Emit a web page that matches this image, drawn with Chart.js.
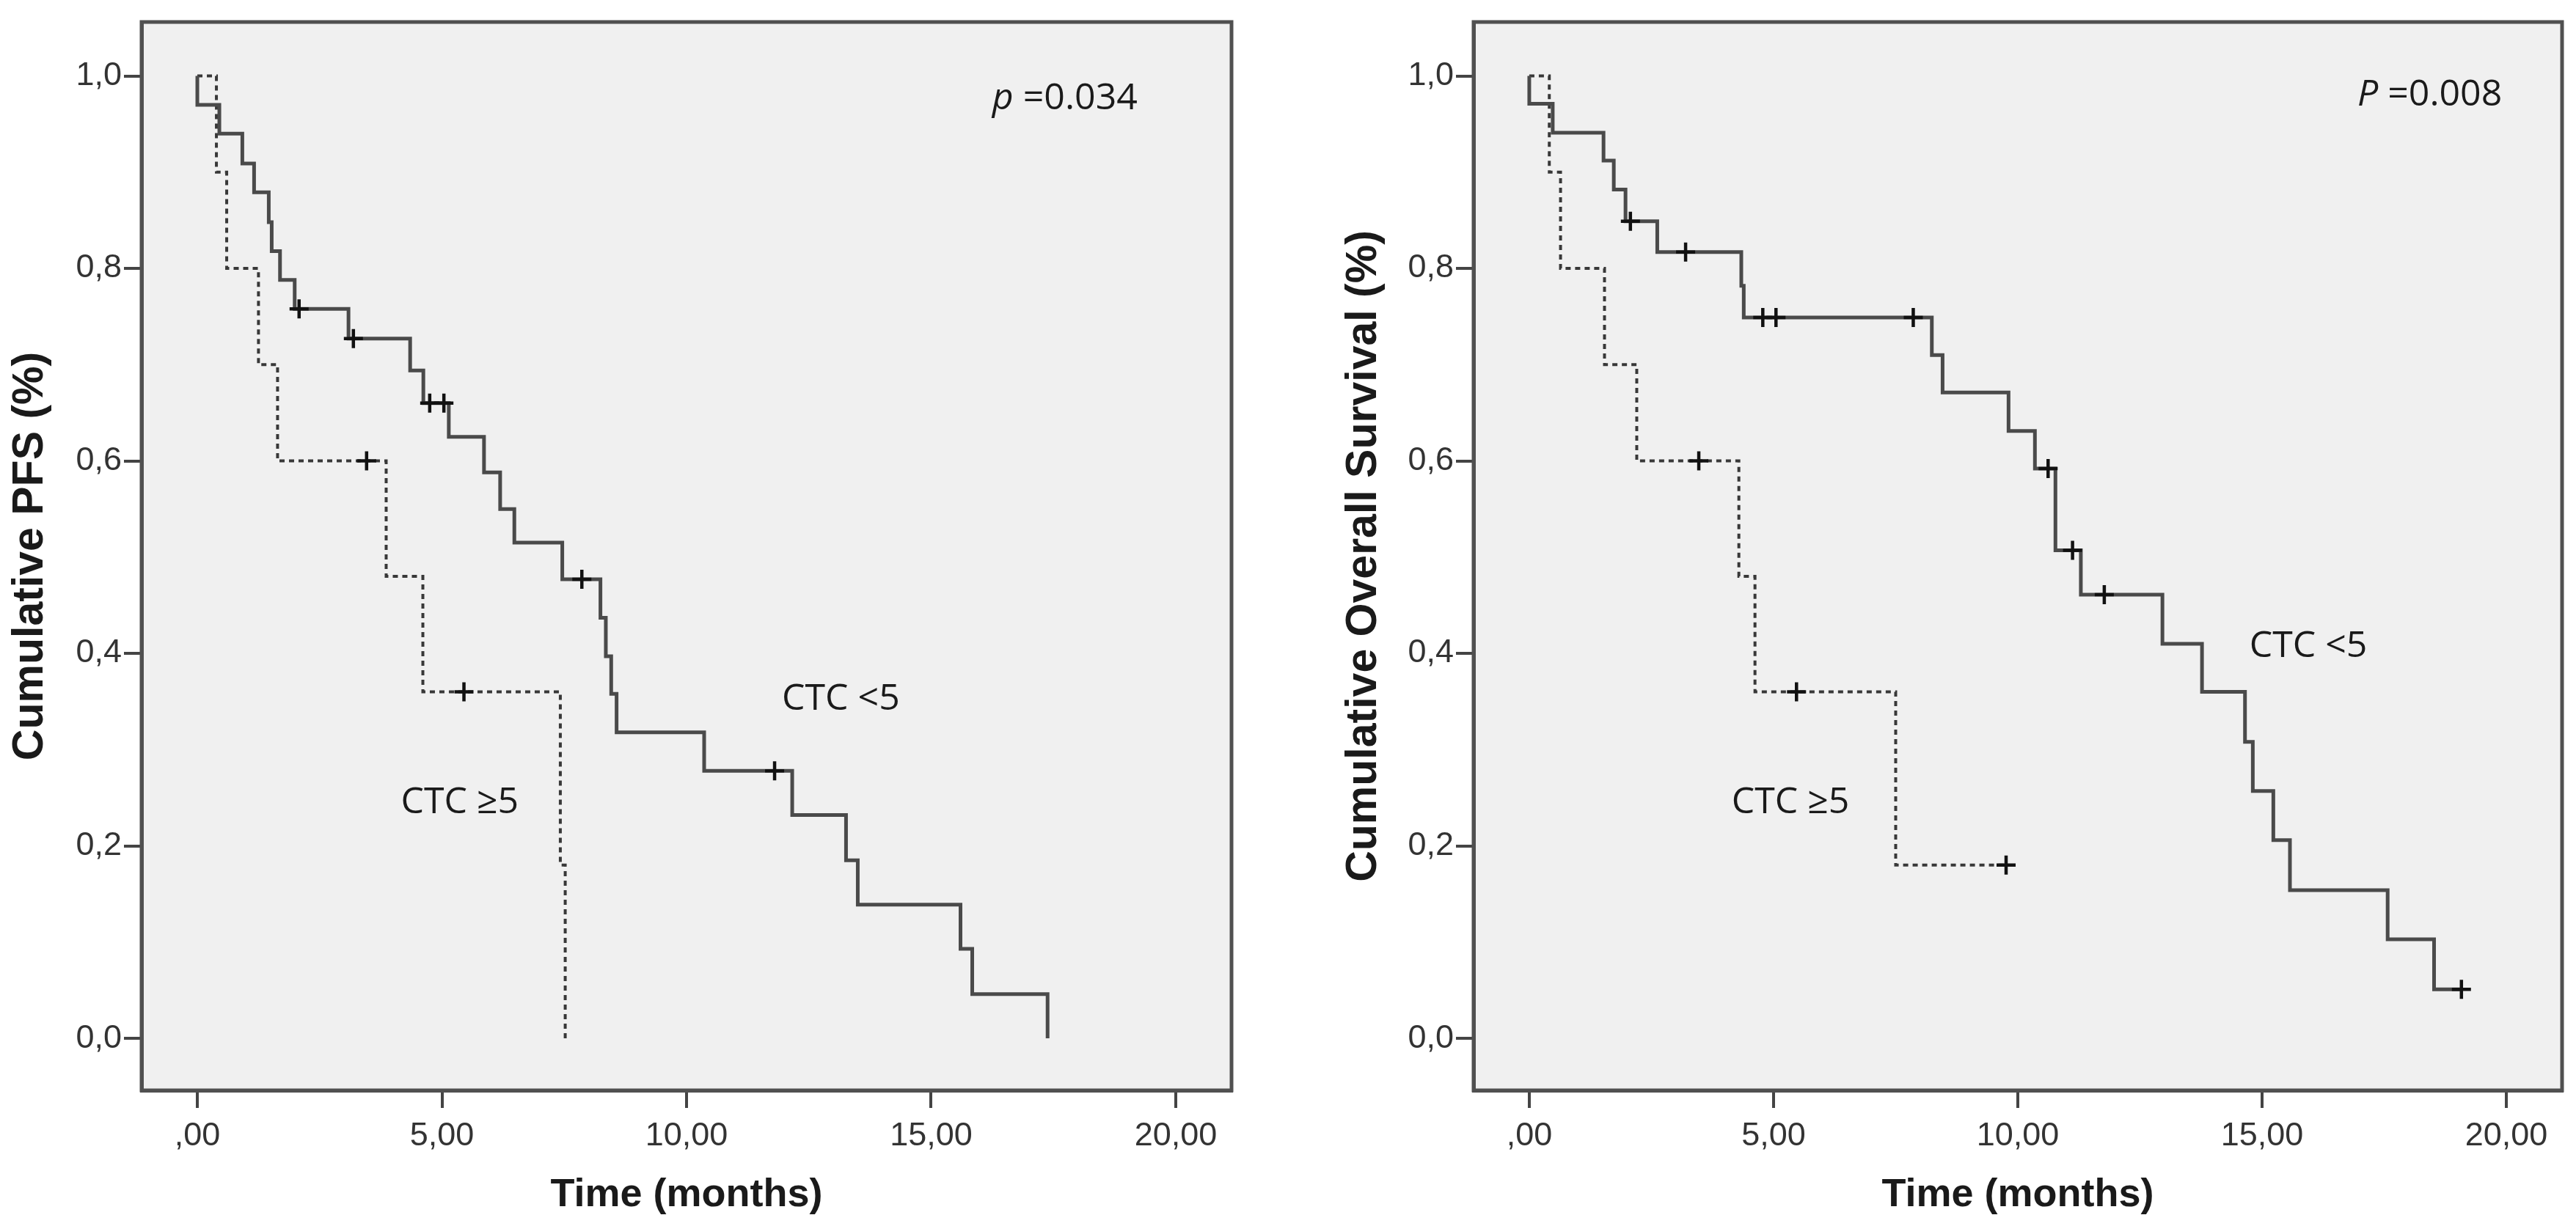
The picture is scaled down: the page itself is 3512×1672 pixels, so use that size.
<!DOCTYPE html>
<html>
<head>
<meta charset="utf-8">
<script src="https://cdn.jsdelivr.net/npm/chart.js@4.4.1/dist/chart.umd.min.js"></script>
<style>
  html, body { margin: 0; padding: 0; background: #fff; }
  body { width: 3512px; height: 1672px; position: relative; overflow: hidden; }
  .panel { position: absolute; top: 0; width: 1756px; height: 1672px; }
</style>
</head>
<body>
<div class="panel" style="left:0"><canvas id="pfsChart" width="1756" height="1672"></canvas></div>
<div class="panel" style="left:1756px"><canvas id="osChart" width="1756" height="1672"></canvas></div>
<script>
// Tick positions and labels (SPSS style, comma decimals)
const xTickValues = [0, 5, 10, 15, 20];
const xTickLabels = [',00', '5,00', '10,00', '15,00', '20,00'];
const yTickValues = [0, 0.2, 0.4, 0.6, 0.8, 1.0];
const yTickLabels = ['0,0', '0,2', '0,4', '0,6', '0,8', '1,0'];

// PFS - CTC <5 (solid)
const pfsLowTime = [0, 0, 0.45, 0.92, 1.16, 1.46, 1.52, 1.69, 1.99, 3.09, 4.35, 4.62, 5.14, 5.86, 6.19, 6.48, 7.46, 8.24, 8.35, 8.46, 8.57, 10.36, 12.16, 13.26, 13.50, 15.60, 15.84, 17.38];
const pfsLowSurv = [1, 0.970, 0.940, 0.909, 0.879, 0.848, 0.818, 0.788, 0.758, 0.727, 0.694, 0.660, 0.625, 0.588, 0.550, 0.515, 0.477, 0.437, 0.397, 0.358, 0.318, 0.278, 0.232, 0.185, 0.139, 0.093, 0.046, 0];
const pfsLowCensTime = [2.08, 3.19, 4.75, 5.04, 7.86, 11.80];
const pfsLowCensSurv = [0.758, 0.727, 0.660, 0.660, 0.477, 0.278];

// PFS - CTC >=5 (dashed)
const pfsHighTime = [0, 0.39, 0.60, 1.25, 1.64, 3.86, 4.61, 7.42, 7.52];
const pfsHighSurv = [1, 0.9, 0.8, 0.7, 0.6, 0.48, 0.36, 0.18, 0];
const pfsHighCensTime = [3.46, 5.45];
const pfsHighCensSurv = [0.6, 0.36];

// OS - CTC <5 (solid)
const osLowTime = [0, 0, 0.48, 1.52, 1.73, 1.97, 2.62, 4.34, 4.39, 8.24, 8.46, 9.81, 10.35, 10.77, 11.29, 12.96, 13.77, 14.65, 14.81, 15.23, 15.57, 17.57, 18.52, 19.08];
const osLowSurv = [1, 0.971, 0.941, 0.912, 0.882, 0.849, 0.817, 0.782, 0.749, 0.710, 0.671, 0.631, 0.592, 0.507, 0.461, 0.410, 0.360, 0.308, 0.257, 0.206, 0.154, 0.103, 0.051, 0.051];
const osLowCensTime = [2.07, 3.20, 4.78, 5.05, 7.86, 10.62, 11.12, 11.77, 19.08];
const osLowCensSurv = [0.849, 0.817, 0.749, 0.749, 0.749, 0.592, 0.507, 0.461, 0.051];

// OS - CTC >=5 (dashed)
const osHighTime = [0, 0.41, 0.64, 1.54, 2.20, 4.29, 4.62, 7.50, 9.76];
const osHighSurv = [1, 0.9, 0.8, 0.7, 0.6, 0.48, 0.36, 0.18, 0.18];
const osHighCensTime = [3.47, 5.47, 9.76];
const osHighCensSurv = [0.6, 0.36, 0.18];

const toPoints = (ts, ss) => ts.map((t, i) => ({ x: t, y: ss[i] }));

// background fill, frame and text notes
const framePlugin = {
    id: 'frame',
    beforeDraw(chart) {
        const { ctx, chartArea: a } = chart;
        ctx.save();
        ctx.fillStyle = '#f0f0f0';
        ctx.fillRect(a.left, a.top, a.right - a.left, a.bottom - a.top);
        ctx.restore();
    },
    afterDraw(chart, args, opts) {
        const { ctx, chartArea: a, scales } = chart;
        ctx.save();
        ctx.strokeStyle = '#505050';
        ctx.lineWidth = 5;
        ctx.strokeRect(a.left, a.top, a.right - a.left, a.bottom - a.top);
        ctx.textBaseline = 'middle';
        ctx.textAlign = 'left';
        ctx.fillStyle = '#1a1a1a';
        (opts.notes || []).forEach(n => {
            let px = scales.x.getPixelForValue(n.x);
            const py = scales.y.getPixelForValue(n.y);
            if (n.italic) {
                ctx.font = 'italic 50px "Open Sans"';
                ctx.fillText(n.italic, px, py);
                px += ctx.measureText(n.italic).width;
            }
            ctx.font = '50px "Open Sans"';
            ctx.fillText(n.text, px, py);
        });
        ctx.restore();
    }
};

function lineSet(ts, ss, dashed) {
    return {
        type: 'line',
        data: toPoints(ts, ss),
        stepped: true,
        borderColor: dashed ? '#383838' : '#4a4a4a',
        borderWidth: dashed ? 4 : 5,
        borderDash: dashed ? [7, 6] : [],
        pointRadius: 0,
        fill: false
    };
}

function censSet(ts, ss) {
    return {
        type: 'scatter',
        data: toPoints(ts, ss),
        pointStyle: 'cross',
        pointRadius: 13,
        borderWidth: 4.5,
        borderColor: '#111',
        clip: false
    };
}

function makeChart(id, cfg) {
    const tickFont = { family: '"Liberation Sans"', size: 45 };
    return new Chart(document.getElementById(id), {
        data: {
            datasets: [
                censSet(cfg.lowCensT, cfg.lowCensS),
                censSet(cfg.highCensT, cfg.highCensS),
                lineSet(cfg.lowT, cfg.lowS, false),
                lineSet(cfg.highT, cfg.highS, true)
            ]
        },
        options: {
            responsive: false,
            devicePixelRatio: 1,
            animation: false,
            layout: { padding: { top: 25, right: cfg.rightPad, left: 0, bottom: 0 } },
            plugins: {
                legend: { display: false },
                tooltip: { enabled: false },
                frame: { notes: cfg.notes }
            },
            scales: {
                x: {
                    type: 'linear',
                    min: -1.14,
                    max: 21.14,
                    afterFit: s => { s.height = 185; },
                    afterBuildTicks: s => { s.ticks = xTickValues.map(v => ({ value: v })); },
                    ticks: {
                        color: '#333',
                        font: tickFont,
                        padding: 12,
                        maxRotation: 0,
                        callback: (v, i) => xTickLabels[i]
                    },
                    grid: { drawOnChartArea: false, tickLength: 24, color: '#444', lineWidth: 4 },
                    border: { display: true, color: '#505050', width: 5 },
                    title: {
                        display: true,
                        text: 'Time (months)',
                        color: '#1a1a1a',
                        font: { family: '"Liberation Sans"', size: 54, weight: 'bold' },
                        padding: 9
                    }
                },
                y: {
                    type: 'linear',
                    min: -0.054,
                    max: 1.056,
                    afterFit: s => { s.width = cfg.yWidth; },
                    afterBuildTicks: s => { s.ticks = yTickValues.map(v => ({ value: v })); },
                    ticks: {
                        color: '#333',
                        font: tickFont,
                        padding: 3,
                        callback: (v, i) => yTickLabels[i]
                    },
                    grid: { drawOnChartArea: false, tickLength: 24, color: '#444', lineWidth: 4 },
                    border: { display: true, color: '#505050', width: 5 },
                    title: {
                        display: true,
                        text: cfg.yTitle,
                        color: '#1a1a1a',
                        font: { family: '"Liberation Sans"', size: 59, weight: 'bold' },
                        padding: cfg.yTitlePad
                    }
                }
            }
        },
        plugins: [framePlugin]
    });
}

makeChart('pfsChart', {
    lowT: pfsLowTime, lowS: pfsLowSurv, lowCensT: pfsLowCensTime, lowCensS: pfsLowCensSurv,
    highT: pfsHighTime, highS: pfsHighSurv, highCensT: pfsHighCensTime, highCensS: pfsHighCensSurv,
    yTitle: 'Cumulative PFS (%)',
    yWidth: 193, yTitlePad: 6, rightPad: 77,
    notes: [
        { text: 'CTC <5', x: 11.95, y: 0.352 },
        { text: 'CTC \u22655', x: 4.16, y: 0.245 },
        { italic: 'p', text: ' =0.034', x: 16.25, y: 0.976 }
    ]
});

makeChart('osChart', {
    lowT: osLowTime, lowS: osLowSurv, lowCensT: osLowCensTime, lowCensS: osLowCensSurv,
    highT: osHighTime, highS: osHighSurv, highCensT: osHighCensTime, highCensS: osHighCensSurv,
    yTitle: 'Cumulative Overall Survival (%)',
    yWidth: 253, yTitlePad: 68, rightPad: 19,
    notes: [
        { text: 'CTC <5', x: 14.74, y: 0.407 },
        { text: 'CTC \u22655', x: 4.14, y: 0.245 },
        { italic: 'P', text: ' =0.008', x: 16.95, y: 0.98 }
    ]
});
</script>
</body>
</html>
